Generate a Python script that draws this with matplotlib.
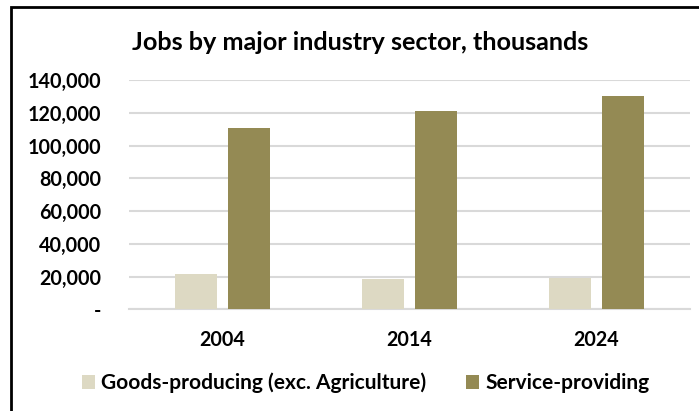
import matplotlib
matplotlib.use("Agg")
import matplotlib.pyplot as plt
import matplotlib.patches as patches
from matplotlib.ticker import FuncFormatter
import numpy as np

# jobs in thousands
years = ["2004", "2014", "2024"]
goods_producing = [21800, 18800, 19000]
service_providing = [110800, 120800, 130400]
series_names = ["Goods-producing (exc. Agriculture)", "Service-providing"]

plt.rcParams["font.family"] = ["Lato", "DejaVu Sans"]
plt.rcParams["font.weight"] = "bold"

fig = plt.figure(figsize=(6.99, 4.11), dpi=100)
ax = fig.add_axes([129 / 699, (411 - 309.3) / 411, 561 / 699, 229.3 / 411])

x = np.arange(len(years))
w = 0.225
off = 0.1417
ax.bar(x - off, goods_producing, w, color="#DDD9C3", label=series_names[0], zorder=3)
ax.bar(x + off, service_providing, w, color="#948A54", label=series_names[1], zorder=3)

ax.set_xlim(-0.5, 2.5)
ax.set_ylim(0, 140000)
ax.set_yticks(np.arange(0, 140001, 20000))
ax.yaxis.set_major_formatter(FuncFormatter(lambda v, p: "-" if v == 0 else f"{int(v):,}"))
ax.set_xticks(x)
ax.set_xticklabels(years)
ax.grid(axis="y", color="#D9D9D9", linewidth=1.5, zorder=0)
for s in ["top", "right", "left"]:
    ax.spines[s].set_visible(False)
ax.spines["bottom"].set_color("#D9D9D9")
ax.spines["bottom"].set_linewidth(1.5)
ax.tick_params(axis="both", length=0, labelsize=14.2, colors="black")
ax.tick_params(axis="y", pad=20)
ax.tick_params(axis="x", pad=15)
for t in ax.get_xticklabels() + ax.get_yticklabels():
    t.set_fontweight("bold")

fig.text(360 / 699, 1 - 42 / 411, "Jobs by major industry sector, thousands",
         ha="center", va="center", fontsize=18.2, fontweight="bold")

leg = fig.legend(loc="center", bbox_to_anchor=(365.5 / 699, 1 - 383 / 411), ncol=2,
                 frameon=False, fontsize=15, handlelength=0.625, handleheight=0.625,
                 handletextpad=0.3, columnspacing=1.9, borderpad=0, borderaxespad=0)
for t in leg.get_texts():
    t.set_fontweight("bold")

# chart frame
fig.patches.append(patches.Rectangle((11 / 699, -0.1), 1.2, 1.1 - 7 / 411,
                                     transform=fig.transFigure, fill=False,
                                     edgecolor="black", linewidth=2))

fig.savefig("out.png", dpi=100)
